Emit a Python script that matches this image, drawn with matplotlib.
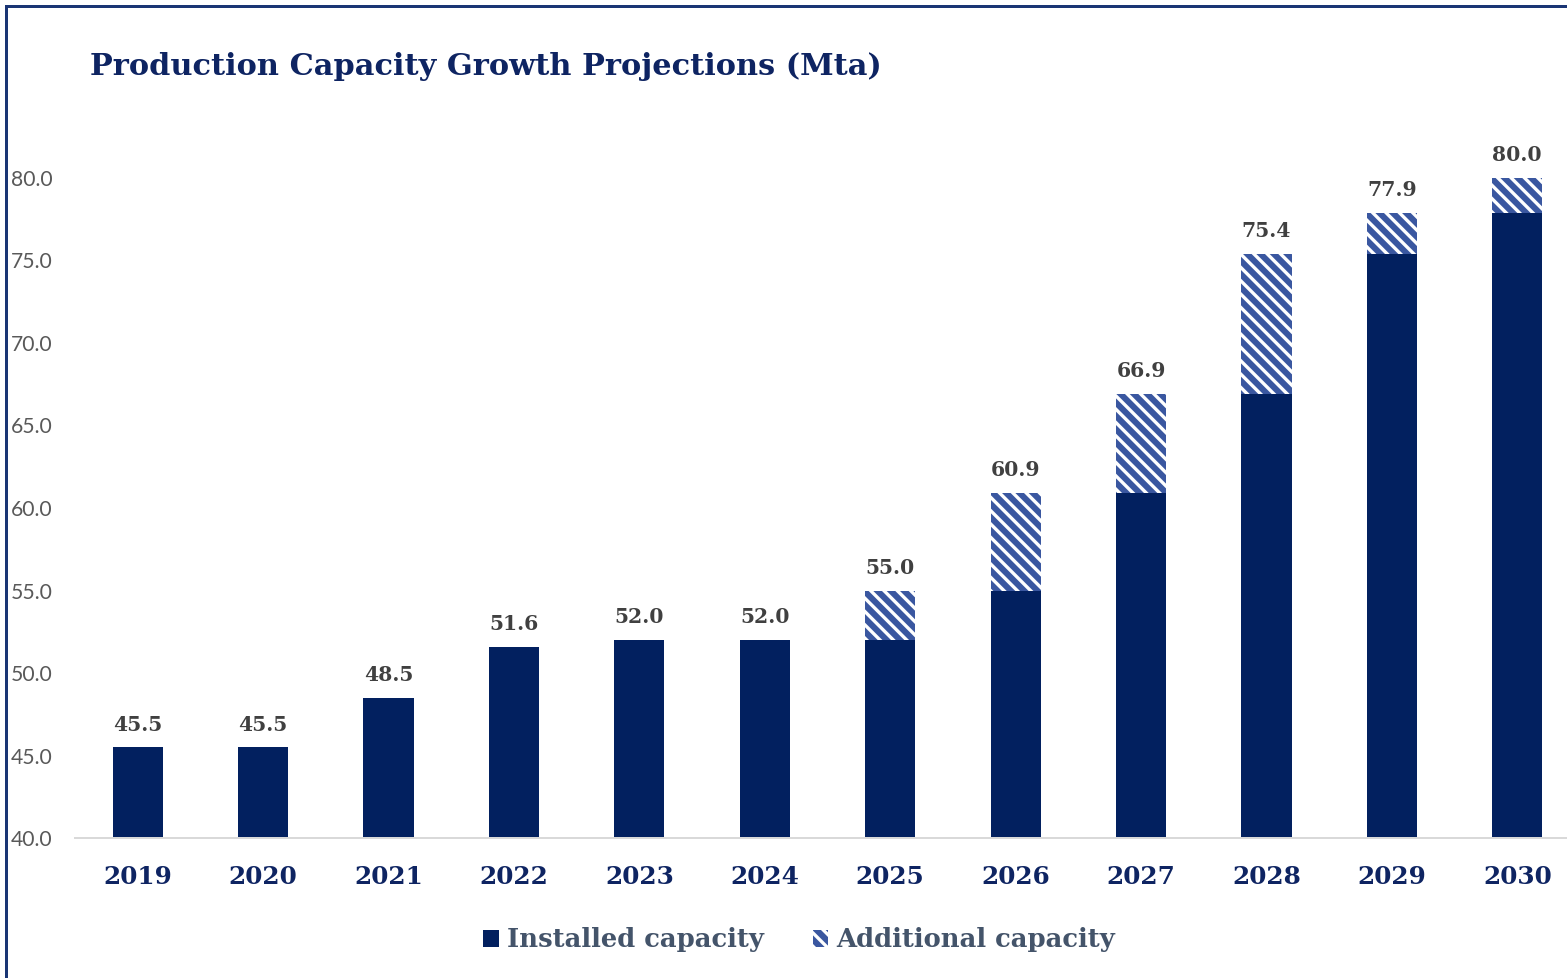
import matplotlib

matplotlib.use("Agg")
import matplotlib.pyplot as plt
from matplotlib.lines import Line2D
from matplotlib.patches import Patch

years = ["2019", "2020", "2021", "2022", "2023", "2024",
         "2025", "2026", "2027", "2028", "2029", "2030"]
installed = [45.5, 45.5, 48.5, 51.6, 52.0, 52.0, 52.0, 55.0, 60.9, 66.9, 75.4, 77.9]
total = [45.5, 45.5, 48.5, 51.6, 52.0, 52.0, 55.0, 60.9, 66.9, 75.4, 77.9, 80.0]
additional = [t - i for t, i in zip(total, installed)]
yticks = [40, 45, 50, 55, 60, 65, 70, 75, 80]

NAVY = "#02205F"
STRIPE = "#3A57A0"
TITLE = "#0E2462"
SERIF = "DejaVu Serif"
HATCH = "\\\\"

DPI = 80
plt.rcParams["hatch.linewidth"] = 3.0

fig = plt.figure(figsize=(1567 / DPI, 978 / DPI), dpi=DPI)
ax = fig.add_axes([75 / 1567, 0.1431, 1505 / 1567, 0.7593])

x = list(range(len(years)))
ax.bar(x, installed, width=0.4, color=NAVY, linewidth=0)
ax.bar(x, additional, bottom=installed, width=0.4, color=STRIPE,
       edgecolor="white", hatch=HATCH, linewidth=0)

for xi, t in zip(x, total):
    ax.annotate(f"{t:.1f}", (xi, t), xytext=(0, 15), textcoords="offset points",
                ha="center", va="baseline", fontsize=18.3, fontweight="bold",
                family=SERIF, color="#404040")

ax.set_xlim(-0.5, len(years) - 0.5)
ax.set_ylim(40, 85)
ax.set_yticks(yticks)
ax.set_yticklabels([f"{v:.1f}" for v in yticks], family="Lato", fontsize=19,
                   color="#595959")
ax.set_xticks(x)
ax.set_xticklabels(years, family=SERIF, fontweight="bold", fontsize=22.3, color=TITLE)
ax.tick_params(axis="y", length=0, pad=20)
ax.tick_params(axis="x", length=0, pad=24.5)
for side in ("top", "right", "left"):
    ax.spines[side].set_visible(False)
ax.spines["bottom"].set_color("#D9D9D9")
ax.spines["bottom"].set_linewidth(1.8)

fig.text(90 / 1567, 1 - 75 / 978, "Production Capacity Growth Projections (Mta)",
         family=SERIF, fontweight="bold", fontsize=27.4, color=TITLE,
         ha="left", va="baseline")

handles = [Patch(facecolor=NAVY, linewidth=0),
           Patch(facecolor=STRIPE, edgecolor="white", hatch=HATCH, linewidth=0)]
fig.legend(handles, ["Installed capacity", "Additional capacity"],
           loc="center", bbox_to_anchor=(0.51, 1 - 940 / 978), ncol=2,
           frameon=False, handlelength=0.6, handleheight=0.6,
           handletextpad=0.3, columnspacing=1.9,
           prop={"family": SERIF, "weight": "bold", "size": 23.3},
           labelcolor="#44546A")

# navy frame: only left and top edges are visible in the crop
fig.add_artist(Line2D([6 / 1567, 6 / 1567], [0, 1 - 6 / 978],
                      transform=fig.transFigure, color="#1A3574", linewidth=2.7))
fig.add_artist(Line2D([6 / 1567, 1], [1 - 6 / 978, 1 - 6 / 978],
                      transform=fig.transFigure, color="#1A3574", linewidth=2.7))

fig.savefig("out.png", dpi=DPI)
